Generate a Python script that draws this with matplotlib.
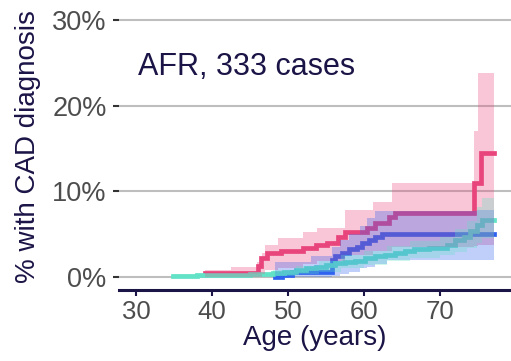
import matplotlib
matplotlib.use('Agg')
import matplotlib.pyplot as plt
from matplotlib.ticker import FuncFormatter

plt.rcParams['font.family'] = ['Liberation Sans', 'DejaVu Sans']

# cumulative incidence (%) by age, one step curve per group
red_age = [39.1, 46.0, 46.4, 47.2, 49.0, 52.0, 53.6, 55.1, 56.6, 57.5, 60.3,
           61.4, 63.2, 64.1, 74.4, 75.3, 77.0]
red_pct = [0.45, 1.3, 2.2, 2.8, 3.0, 3.35, 3.7, 3.9, 4.7, 5.2, 5.7,
           6.3, 7.05, 7.45, 11.0, 14.5, 14.5]
red_ci_age = [39.1, 42.5, 45.9, 46.5, 47.0, 48.7, 52.0, 53.8, 57.5, 61.2,
              63.6, 74.4, 75.0, 77.0]
red_ci_lo = [0.0, 0.0, 0.0, 0.3, 0.8, 1.0, 1.5, 1.8, 2.5, 3.0,
             3.5, 3.6, 3.7, 3.7]
red_ci_hi = [0.8, 1.2, 1.7, 2.8, 3.7, 4.5, 5.2, 5.7, 7.8, 8.7,
             11.0, 17.0, 23.8, 23.8]

blue_age = [48.3, 49.2, 50.5, 55.7, 56.2, 57.1, 58.0, 59.1, 59.7, 60.6,
            61.4, 62.3, 77.0]
blue_pct = [0.0, 0.25, 0.6, 2.0, 2.4, 2.8, 3.2, 3.5, 3.9, 4.3,
            4.7, 5.0, 5.0]
blue_ci_age = [48.3, 53.0, 55.7, 56.8, 58.0, 59.5, 60.3, 61.4, 63.0, 74.8, 77.0]
blue_ci_lo = [0.0, 0.0, 0.1, 0.3, 0.6, 1.0, 1.2, 1.5, 2.0, 2.0, 2.0]
blue_ci_hi = [1.7, 2.4, 3.5, 4.3, 5.0, 5.9, 6.9, 7.7, 7.7, 7.8, 7.8]

teal_age = [34.9, 38.0, 42.0, 45.0, 46.5, 48.0, 49.5, 51.0, 52.3, 53.6,
            55.0, 56.2, 57.5, 58.8, 60.1, 61.4, 62.7, 64.1, 65.4, 66.5,
            68.5, 70.9, 72.0, 73.1, 73.9, 74.8, 75.5, 77.0]
teal_pct = [0.15, 0.2, 0.25, 0.3, 0.35, 0.45, 0.6, 0.8, 1.0, 1.2,
            1.4, 1.6, 1.75, 1.9, 2.15, 2.4, 2.6, 2.8, 3.0, 3.2,
            3.35, 3.7, 4.25, 4.7, 5.3, 6.1, 6.7, 6.7]
teal_ci_age = [34.9, 46.0, 48.0, 51.0, 54.0, 57.0, 60.0, 63.0, 66.0, 70.0,
               72.0, 73.5, 74.8, 75.5, 77.0]
teal_ci_lo = [0.0, 0.0, 0.1, 0.3, 0.6, 1.0, 1.4, 1.8, 2.2, 2.5,
              2.9, 3.4, 4.0, 4.5, 4.5]
teal_ci_hi = [0.3, 0.5, 0.8, 1.3, 1.8, 2.5, 3.0, 3.6, 4.2, 4.7,
              5.6, 6.5, 8.2, 9.2, 9.2]

y_ticks = [0, 10, 20, 30]
x_ticks = [30, 40, 50, 60, 70]
title = 'AFR, 333 cases'

navy = '#1B1446'
grey = '#4D4D4D'
colors = {'red': '#E8457C', 'blue': '#2F62EE', 'teal': '#62E2C6'}

fig = plt.figure(figsize=(5.11, 3.61), dpi=100)
ax = fig.add_axes([0.233, 0.197, 0.767, 0.795])

lines = [
    (red_age, red_pct, colors['red']),
    (blue_age, blue_pct, colors['blue']),
    (teal_age, teal_pct, colors['teal']),
]
bands = [
    (red_ci_age, red_ci_lo, red_ci_hi, colors['red']),
    (blue_ci_age, blue_ci_lo, blue_ci_hi, colors['blue']),
    (teal_ci_age, teal_ci_lo, teal_ci_hi, colors['teal']),
]

for age, pct, c in lines:
    ax.plot(age, pct, drawstyle='steps-post', color=c, lw=3.4,
            solid_joinstyle='miter', zorder=3)
for age, lo, hi, c in bands:
    ax.fill_between(age, lo, hi, step='post', color=c, alpha=0.3,
                    lw=0, zorder=4)

ax.set_xlim(27.76, 79.3)
ax.set_ylim(-1.52, 32.0)
ax.set_xticks(x_ticks)
ax.set_yticks(y_ticks)
ax.yaxis.set_major_formatter(FuncFormatter(lambda v, _: f'{v:.0f}%'))

ax.grid(axis='y', color='#BEBEBE', lw=1.5, zorder=0)
ax.set_axisbelow(True)
for side in ('left', 'right', 'top'):
    ax.spines[side].set_visible(False)
ax.spines['bottom'].set_color(navy)
ax.spines['bottom'].set_linewidth(2.2)

ax.tick_params(axis='x', colors=navy, length=4, width=1.5, pad=3,
               labelsize=18.5, labelcolor=grey)
ax.tick_params(axis='y', colors='#333333', length=4, width=1.5, pad=5,
               labelsize=19.5, labelcolor=grey)

ax.set_xlabel('Age (years)', fontsize=20, color=navy, labelpad=1)
ax.set_ylabel('% with CAD diagnosis', fontsize=20, color=navy, labelpad=8)

ax.text(0.048, 0.749, title, transform=ax.transAxes, fontsize=22,
        color=navy, va='baseline', ha='left')

fig.savefig('out.png', dpi=100)
